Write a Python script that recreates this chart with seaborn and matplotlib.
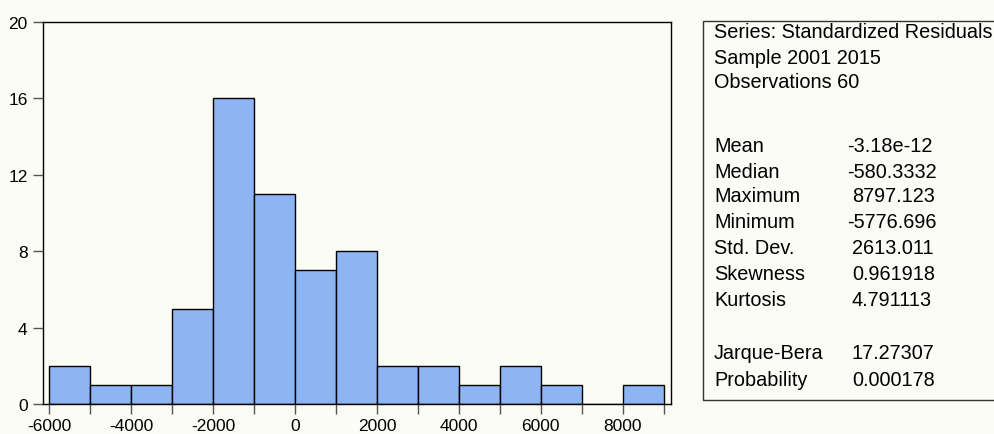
import numpy as np
import pandas as pd
import matplotlib
matplotlib.use("Agg")
import matplotlib.pyplot as plt
import seaborn as sns
from matplotlib.ticker import MultipleLocator
from matplotlib.patches import Rectangle

# ---- data ----
bin_edges = [-6000, -5000, -4000, -3000, -2000, -1000, 0, 1000, 2000,
             3000, 4000, 5000, 6000, 7000, 8000, 9000]
counts = [2, 1, 1, 5, 16, 11, 7, 8, 2, 2, 1, 2, 1, 0, 1]
x_ticks = [-6000, -4000, -2000, 0, 2000, 4000, 6000, 8000]
y_ticks = [0, 4, 8, 12, 16, 20]

header_lines = ["Series: Standardized Residuals", "Sample 2001 2015", "Observations 60"]
stat_names = ["Mean", "Median", "Maximum", "Minimum", "Std. Dev.", "Skewness", "Kurtosis",
              "Jarque-Bera", "Probability"]
stat_values = ["-3.18e-12", "-580.3332", "8797.123", "-5776.696", "2613.011", "0.961918",
               "4.791113", "17.27307", "0.000178"]

centers = [(bin_edges[i] + bin_edges[i + 1]) / 2 for i in range(len(counts))]
df = pd.DataFrame({"resid": centers, "count": counts})

sns.set_theme(style="ticks")
plt.rcParams["font.family"] = ["Liberation Sans", "DejaVu Sans"]
plt.rcParams["axes.unicode_minus"] = False
plt.rcParams["text.color"] = "black"

W, H = 995, 435
bg = "#fcfcf6"
fig = plt.figure(figsize=(W / 100, H / 100), dpi=100, facecolor=bg)
ax = fig.add_axes([43 / W, 1 - 405 / H, (671 - 43) / W, (405 - 23) / H], facecolor=bg)

sns.histplot(data=df, x="resid", weights="count", bins=bin_edges, ax=ax,
             color="#8db4f3", alpha=1.0, edgecolor="black", linewidth=1.0)

ax.set_xlim(-6146, 9175)
ax.set_ylim(0, 20)
ax.set_xticks(x_ticks)
ax.xaxis.set_minor_locator(MultipleLocator(1000))
ax.set_yticks(y_ticks)
ax.set_xlabel("")
ax.set_ylabel("")
for s in ax.spines.values():
    s.set_visible(True)
    s.set_color("black")
    s.set_linewidth(1.0)
ax.tick_params(axis="both", which="both", direction="out", length=7, width=1,
               color="#555555", labelsize=12.5, labelcolor="black")
ax.tick_params(axis="x", pad=3)
ax.tick_params(axis="y", pad=4)

# ---- statistics box ----
box = Rectangle((703 / W, 1 - 401 / H), (1000 - 703) / W, (401 - 22) / H,
                transform=fig.transFigure, facecolor=bg, edgecolor="#333333",
                linewidth=1.0, clip_on=False)
fig.patches.append(box)

fs = 14.3
header_y = [33, 58, 83]
for txt, yy in zip(header_lines, header_y):
    fig.text(714 / W, 1 - yy / H, txt, fontsize=fs, va="center", ha="left", color="black")
stat_y = [147, 172, 197, 223, 249, 275, 300, 354, 380]
for name, val, yy in zip(stat_names, stat_values, stat_y):
    fig.text(714 / W, 1 - yy / H, name, fontsize=fs, va="center", ha="left", color="black")
    xv = 847 if val.startswith("-") else 852
    fig.text(xv / W, 1 - yy / H, val, fontsize=fs, va="center", ha="left", color="black")

fig.savefig("out.png", dpi=100, facecolor=bg)
